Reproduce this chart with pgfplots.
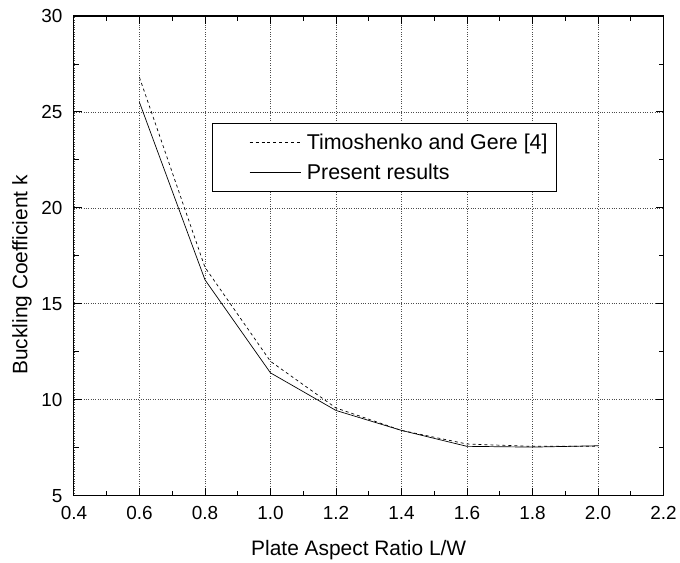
\documentclass[border=0pt]{standalone}
\usepackage{pgfplots}
\pgfplotsset{compat=1.18}
\usepackage{fontspec}
\setmainfont{Liberation Sans}
\begin{document}
\begin{tikzpicture}[font=\fontsize{19}{22}\selectfont]
\begin{axis}[
    scale only axis,
    width=590bp, height=480bp,
    xmin=0.4, xmax=2.2,
    ymin=5, ymax=30,
    xtick={0.4,0.6,...,2.21},
    ytick={5,10,...,30},
    minor x tick num=1,
    minor y tick num=1,
    tick align=inside,
    tick pos=both,
    major tick length=8bp,
    minor tick length=5bp,
    every tick/.style={black, line width=0.9pt},
    axis line style={line width=1.1pt},
    tick label style={font=\fontsize{19}{22}\selectfont},
    x tick label style={yshift=-7bp, /pgf/number format/fixed,
        /pgf/number format/fixed zerofill, /pgf/number format/precision=1},
    y tick label style={xshift=-8bp},
    /pgf/number format/assume math mode=true,
    xmajorgrids, ymajorgrids,
    grid style={black!70, dotted, line width=0.7pt},
    xlabel={Plate Aspect Ratio L/W},
    ylabel={Buckling Coefficient k},
    every axis x label/.style={at={(axis description cs:0.483,-0.1125)}, anchor=center,
        font=\fontsize{21}{24}\selectfont},
    every axis y label/.style={at={(axis description cs:-0.088,0.46)}, anchor=center,
        rotate=90, font=\fontsize{21}{24}\selectfont},
    legend image code/.code={\path (-31bp,0bp); \draw[#1] (0bp,0bp) -- (51bp,0bp); \path (55bp,0bp);},
    legend style={at={(0.234,0.777)}, anchor=north west, draw=black,
        line width=0.7pt, inner xsep=6bp, inner ysep=9bp,
        row sep=8.5bp, font=\fontsize{21.5}{25}\selectfont},
    legend cell align=left,
]
\addplot[black, dashed, line width=0.7pt] coordinates {
    (0.6,26.8) (0.8,16.9) (1.0,12.0) (1.2,9.57) (1.4,8.4) (1.6,7.69) (1.8,7.57) (2.0,7.57)
};
\addlegendentry{\makebox[242bp][l]{Timoshenko and Gere [4]}}
\addplot[black, line width=0.7pt] coordinates {
    (0.6,25.5) (0.8,16.25) (1.0,11.4) (1.2,9.44) (1.4,8.4) (1.6,7.57) (1.8,7.53) (2.0,7.6)
};
\addlegendentry{Present results}
\end{axis}
\path ([xshift=-74bp,yshift=-67bp]current axis.south west)
    rectangle ([xshift=16bp,yshift=16bp]current axis.north east);
\end{tikzpicture}
\end{document}
